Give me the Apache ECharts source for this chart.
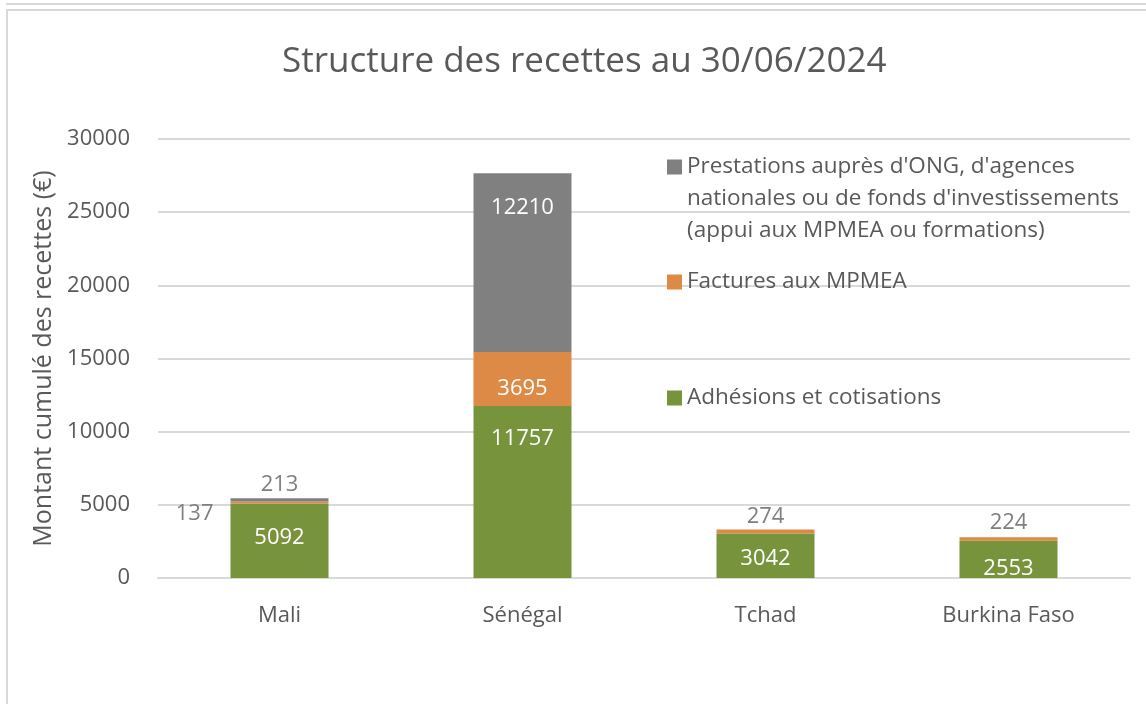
<!DOCTYPE html>
<html lang="fr">
<head>
    <meta charset="UTF-8">
    <title>Structure des recettes</title>
    <script src="https://cdn.jsdelivr.net/npm/echarts@6/dist/echarts.min.js"></script>
    <style>
        html, body { margin: 0; padding: 0; background: #fff; }
        #topline { position: absolute; left: 6px; top: 3px; width: 1140px; height: 0; border-top: 2px solid #d9d9d9; }
        #frame { position: absolute; left: 6px; top: 9px; width: 1150px; height: 700px; border-left: 2px solid #d9d9d9; border-top: 2px solid #d9d9d9; }
        #main { position: absolute; left: 0; top: 0; width: 1146px; height: 704px; }
    </style>
</head>
<body>
    <div id="topline"></div>
    <div id="frame"></div>
    <div id="main"></div>
    <script type="text/javascript">
        // donnees
        var pays = ['Mali', 'Sénégal', 'Tchad', 'Burkina Faso'];
        var adhesions = [5092, 11757, 3042, 2553];
        var factures = [137, 3695, 274, 224];
        var prestations = [213, 12210, null, null];
        var yTicks = [0, 5000, 10000, 15000, 20000, 25000, 30000];

        var nomAdh = 'Adhésions et cotisations';
        var nomFact = 'Factures aux MPMEA';
        var nomPrest = "Prestations auprès d'ONG, d'agences\nnationales ou de fonds d'investissements\n(appui aux MPMEA ou formations)";

        var police = 'Open Sans';
        var gris = '#595959';
        var grisClair = '#7f7f7f';
        var taille = 22;

        var myChart = echarts.init(document.getElementById('main'));

        // positions des etiquettes (ajustees a la main comme dans Excel)
        var labAdh = [
            { position: 'inside', offset: [0, -3] },
            { position: 'insideTop', distance: 22 },
            { position: 'inside', offset: [0, 3] },
            { position: 'inside', offset: [0, 9] }
        ];
        var labFact = [
            { position: 'left', distance: 17, offset: [0, 11], color: grisClair },
            { position: 'inside', offset: [0, 10] },
            { position: 'top', distance: 2, color: grisClair },
            { position: 'top', distance: 4, color: grisClair }
        ];
        var labPrest = [
            { position: 'top', distance: 3, color: grisClair },
            { position: 'insideTop', distance: 24 },
            {},
            {}
        ];

        function build(vals, labs) {
            return vals.map(function (v, i) {
                return { value: v, label: labs[i] };
            });
        }

        var legendeBase = {
            itemWidth: 15, itemHeight: 15,
            icon: 'rect',
            padding: 0,
            selectedMode: false,
            textStyle: { fontFamily: police, fontSize: 22.5, color: gris, lineHeight: 32 }
        };

        var option = {
            backgroundColor: 'transparent',
            textStyle: { fontFamily: police },
            animation: false,
            title: {
                text: 'Structure des recettes au 30/06/2024',
                left: 277,
                top: 40,
                textStyle: { fontFamily: police, fontSize: 35, fontWeight: 'normal', color: gris }
            },
            legend: [
                Object.assign({}, legendeBase, {
                    data: [nomPrest],
                    left: 667, top: 87,
                    formatter: function (n) { return '\n\n' + n; }
                }),
                Object.assign({}, legendeBase, {
                    data: [nomFact],
                    left: 667, top: 266
                }),
                Object.assign({}, legendeBase, {
                    data: [nomAdh],
                    left: 667, top: 382
                })
            ],
            grid: { left: 158, right: 16, top: 139, bottom: 126 },
            xAxis: {
                type: 'category',
                data: pays,
                axisLine: { lineStyle: { color: '#d9d9d9', width: 2 } },
                axisTick: { show: false },
                axisLabel: { color: gris, fontSize: taille, margin: 27 }
            },
            yAxis: {
                type: 'value',
                min: yTicks[0],
                max: yTicks[yTicks.length - 1],
                interval: 5000,
                name: 'Montant cumulé des recettes (€)',
                nameLocation: 'middle',
                nameGap: 101,
                nameTextStyle: { color: gris, fontSize: 25 },
                axisLine: { show: false },
                axisTick: { show: false },
                axisLabel: {
                    color: gris, fontSize: taille, margin: 28,
                    formatter: function (v) { return String(v); }
                },
                splitLine: { lineStyle: { color: '#d9d9d9', width: 2 } }
            },
            series: [
                {
                    name: nomAdh,
                    type: 'bar',
                    stack: 'total',
                    barWidth: 98,
                    itemStyle: { color: '#77933c' },
                    label: { show: true, color: '#fff', fontSize: taille },
                    data: build(adhesions, labAdh)
                },
                {
                    name: nomFact,
                    type: 'bar',
                    stack: 'total',
                    barWidth: 98,
                    itemStyle: { color: '#dc8a45' },
                    label: { show: true, color: '#fff', fontSize: taille },
                    data: build(factures, labFact)
                },
                {
                    name: nomPrest,
                    type: 'bar',
                    stack: 'total',
                    barWidth: 98,
                    itemStyle: { color: '#808080' },
                    label: { show: true, color: '#fff', fontSize: taille },
                    data: build(prestations, labPrest)
                }
            ]
        };

        myChart.setOption(option);
        window.addEventListener('resize', function () {
            myChart.resize();
        });
    </script>
</body>
</html>
